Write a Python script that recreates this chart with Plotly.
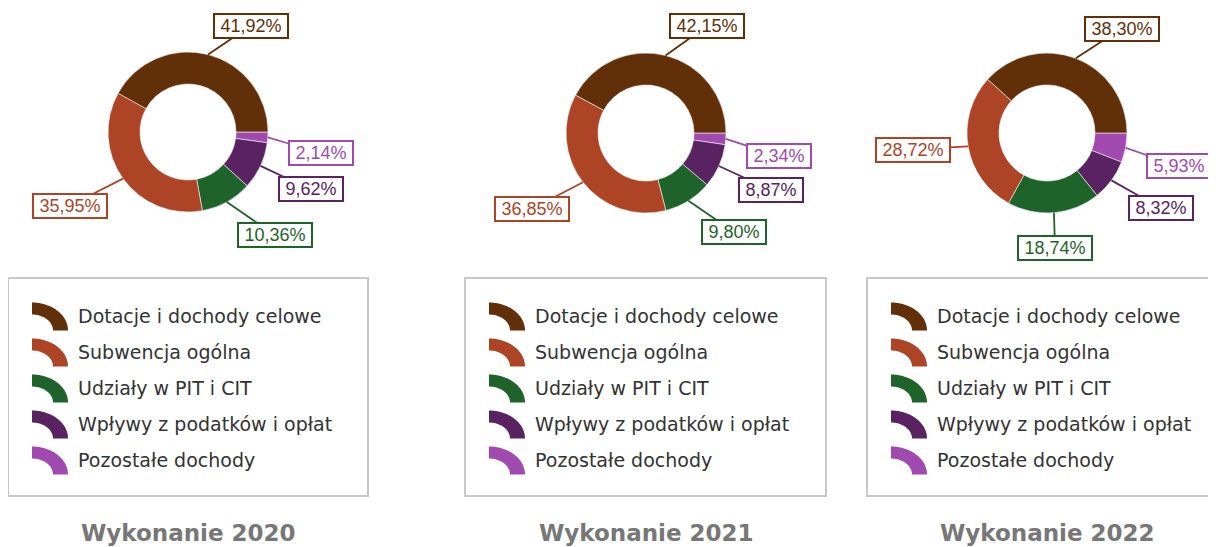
import math
import plotly.graph_objects as go

# page body has an 8px margin; figure is sized so it fills the rest of the window
OFF = 8
W, H = 1216 - OFF, 547 - OFF

# ---------------- data ----------------
categories = ["Dotacje i dochody celowe", "Subwencja ogólna", "Udziały w PIT i CIT",
              "Wpływy z podatków i opłat", "Pozostałe dochody"]
share_2020 = [41.92, 35.95, 10.36, 9.62, 2.14]
share_2021 = [42.15, 36.85, 9.80, 8.87, 2.34]
share_2022 = [38.30, 28.72, 18.74, 8.32, 5.93]
titles = ["Wykonanie 2020", "Wykonanie 2021", "Wykonanie 2022"]

# ---------------- styles / positions (window pixels) ----------------
colors = ["#612F08", "#AD4426", "#1E632A", "#592362", "#A04AB0"]
centers = [(188, 132), (646, 133), (1047, 133)]
R = 80
HOLE = 0.6
label_boxes = [
    [(251, 25.5), (70, 205.5), (274.5, 235), (310.5, 189.5), (320.5, 153)],
    [(707, 26), (531.5, 209), (733.5, 231.5), (771, 190), (778.5, 156)],
    [(1121.5, 28.5), (913, 149.5), (1055, 247.5), (1160.5, 208), (1178.5, 166)],
]
legend_x = [(8, 368), (465, 826), (867, 1227)]
legend_y = (278, 496)
row_y = [316.5, 352.5, 388.5, 424.5, 460.5]
title_y = 533


def px(x):
    return (x - OFF) / W


def py(y):
    return 1 - (y - OFF) / H


def fmt(v):
    return f"{v:.2f}".replace(".", ",") + "%"


CHAR_W = {",": .278, "%": .889}
LBL_SIZE = 18

fig = go.Figure()
annotations = []
shapes = []

for k, vals in enumerate([share_2020, share_2021, share_2022]):
    cx, cy = centers[k]
    # drawn clockwise from 3 o'clock with reversed order == counterclockwise in original order
    fig.add_trace(go.Pie(
        labels=categories[::-1], values=vals[::-1], sort=False,
        direction="clockwise", rotation=90, hole=HOLE,
        marker=dict(colors=colors[::-1], line=dict(color="rgba(255,255,255,0.55)", width=1)),
        textinfo="none", hoverinfo="label+percent", showlegend=False,
        domain=dict(x=[px(cx - R), px(cx + R)], y=[py(cy + R), py(cy - R)]),
    ))

    total = sum(vals)
    cum = 0.0
    for i, v in enumerate(vals):
        frac = v / total
        mid = (cum + frac / 2) * 2 * math.pi
        cum += frac
        ax0 = cx + R * math.cos(mid)
        ay0 = cy - R * math.sin(mid)
        bx, by = label_boxes[k][i]
        txt = fmt(v)
        tw = sum(CHAR_W.get(c, .556) for c in txt) * LBL_SIZE
        annotations.append(dict(
            x=px(ax0), y=py(ay0), xref="paper", yref="paper",
            ax=bx - ax0, ay=by - ay0, axref="pixel", ayref="pixel",
            text=txt, showarrow=True, arrowhead=0, arrowwidth=1.8,
            arrowcolor=colors[i], standoff=0,
            font=dict(family="Liberation Sans, Arial", size=LBL_SIZE, color=colors[i]),
            bgcolor="white", bordercolor=colors[i], borderwidth=2, borderpad=0,
            width=tw + 11, height=22,
        ))

    # legend box
    lx0, lx1 = legend_x[k]
    shapes.append(dict(type="rect", xref="paper", yref="paper",
                       x0=px(lx0), x1=px(lx1), y0=py(legend_y[1]), y1=py(legend_y[0]),
                       line=dict(color="#C8C8C8", width=2), fillcolor="white", layer="below"))
    icon_left = lx0 + 24
    for i, cat in enumerate(categories):
        ex, ey = icon_left, row_y[i] + 14
        pts = []
        n = 24
        for j in range(n + 1):
            t = math.pi / 2 * (1 - j / n)
            pts.append((ex + 36 * math.cos(t), ey - 28 * math.sin(t)))
        for j in range(n + 1):
            t = math.pi / 2 * (j / n)
            pts.append((ex + 21 * math.cos(t), ey - 16 * math.sin(t)))
        path = "M " + " L ".join(f"{px(a):.5f},{py(b):.5f}" for a, b in pts) + " Z"
        shapes.append(dict(type="path", xref="paper", yref="paper", path=path,
                           fillcolor=colors[i], line=dict(width=0), layer="above"))
        annotations.append(dict(
            x=px(icon_left + 44), y=py(row_y[i] - 0.5), xref="paper", yref="paper",
            xanchor="left", yanchor="middle", showarrow=False, text=cat,
            font=dict(family="DejaVu Sans", size=19, color="#333333"),
        ))

    annotations.append(dict(
        x=px(cx), y=py(title_y), xref="paper", yref="paper",
        xanchor="center", yanchor="middle", showarrow=False, text="<b>" + titles[k] + "</b>",
        font=dict(family="DejaVu Sans", size=23, color="#777777"),
    ))

fig.update_layout(
    width=W, height=H, margin=dict(l=0, r=0, t=0, b=0),
    paper_bgcolor="white", plot_bgcolor="white",
    annotations=annotations, shapes=shapes, showlegend=False,
)

fig.write_html("out.html")
